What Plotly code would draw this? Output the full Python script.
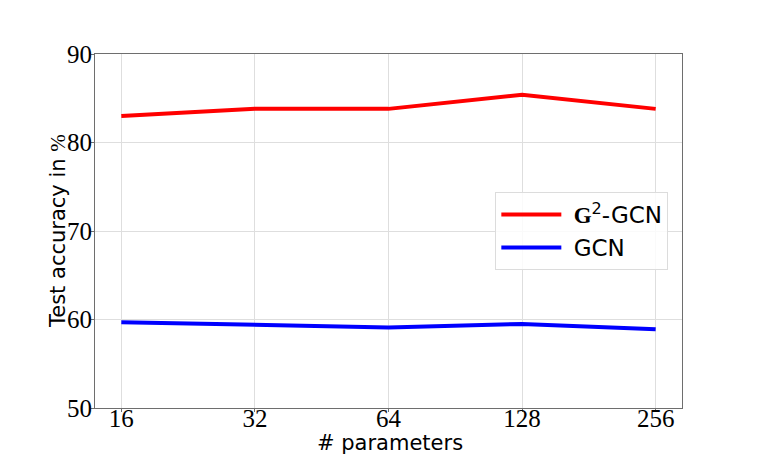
import plotly.graph_objects as go

params = ["16", "32", "64", "128", "256"]
g2_gcn = [83.0, 83.8, 83.8, 85.4, 83.8]
gcn = [59.7, 59.4, 59.1, 59.5, 58.9]
y_ticks = [50, 60, 70, 80, 90]

fig = go.Figure()
fig.add_trace(
    go.Scatter(
        x=params,
        y=g2_gcn,
        mode="lines",
        name='&nbsp;<span style="font-family:Liberation Serif"><b>G</b></span><sup>2</sup>-GCN',
        line=dict(color="#ff0000", width=4),
    )
)
fig.add_trace(
    go.Scatter(
        x=params,
        y=gcn,
        mode="lines",
        name="&nbsp;GCN",
        line=dict(color="#0000ff", width=4),
    )
)

axis_common = dict(
    showline=True,
    linecolor="#6e6e6e",
    linewidth=1,
    mirror=True,
    showgrid=True,
    gridcolor="#dedede",
    gridwidth=1,
    ticks="outside",
    ticklen=3,
    tickcolor="#6e6e6e",
    tickfont=dict(family="Liberation Serif", size=25, color="black"),
    zeroline=False,
    automargin=False,
)

fig.update_xaxes(type="category", range=[-0.197, 4.197], ticklabelstandoff=-15, **axis_common)
fig.update_yaxes(range=[50, 90], tickvals=y_ticks, ticklabelstandoff=-6, **axis_common)

title_font = dict(family="DejaVu Sans", size=21, color="black")
fig.add_annotation(
    text="# parameters",
    xref="paper", yref="paper",
    x=0.5026, y=-0.098,
    xanchor="center", yanchor="middle",
    showarrow=False,
    font=title_font,
)
fig.add_annotation(
    text='Test accuracy in <span style="font-family:Liberation Serif">%</span>',
    xref="paper", yref="paper",
    x=-0.063, y=0.5,
    xanchor="center", yanchor="middle",
    textangle=-90,
    showarrow=False,
    font=title_font,
)

fig.update_layout(
    width=761,
    height=457,
    plot_bgcolor="white",
    paper_bgcolor="white",
    margin=dict(l=95, r=79, t=54, b=49),
    showlegend=True,
    legend=dict(
        x=0.682,
        y=0.61,
        xanchor="left",
        yanchor="top",
        bgcolor="rgba(255,255,255,0.85)",
        bordercolor="#dcdcdc",
        borderwidth=1,
        font=dict(family="DejaVu Sans", size=23, color="black"),
        itemwidth=60,
    ),
)

# drop the default page margin so the figure sits at the window's corner
fig.write_html(
    "out.html",
    config={"displayModeBar": False},
    post_script="document.body.style.margin='0';",
)
